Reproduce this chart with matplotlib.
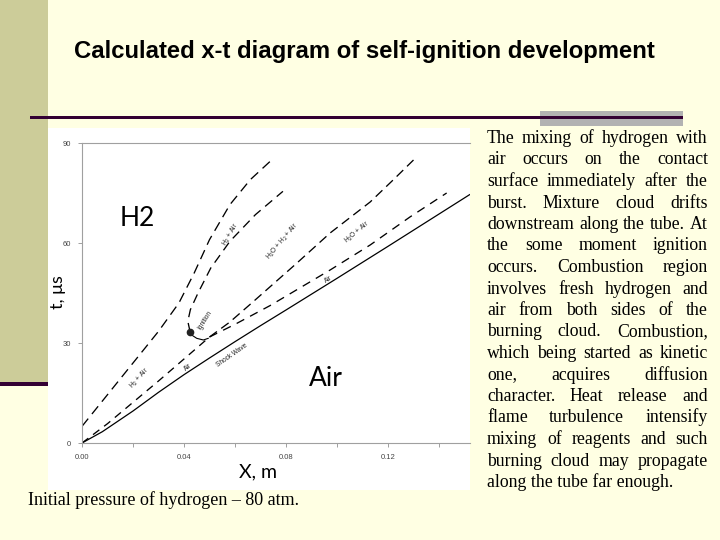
import numpy as np
import matplotlib.pyplot as plt
from matplotlib.patches import Rectangle

# curves: x in m, t in microseconds
shock_x = [0, 0.008, 0.02, 0.03, 0.04, 0.05, 0.06, 0.07, 0.08, 0.10, 0.12, 0.152]
shock_t = [0, 3.4, 9.6, 15.2, 20.5, 25.5, 30.4, 35.2, 39.9, 49.4, 59.0, 74.5]

contact_x = [0, 0.01, 0.02, 0.03, 0.04, 0.05]
contact_t = [0, 5.8, 12.2, 18.6, 25.2, 31.8]

h2air_out_x = [0, 0.01, 0.02, 0.03, 0.038, 0.044, 0.050, 0.058, 0.066, 0.0745]
h2air_out_t = [5.0, 14.5, 24.0, 33.5, 42.0, 51.0, 61.0, 71.5, 79.0, 85.0]

h2air_in_x = [0.0424, 0.0415, 0.0425, 0.0455, 0.0505, 0.058, 0.068, 0.0788]
h2air_in_t = [33.3, 36.5, 40.0, 45.0, 52.5, 60.5, 68.5, 75.5]

mix_x = [0.050, 0.058, 0.067, 0.0843, 0.0973, 0.113, 0.122, 0.130]
mix_t = [31.8, 36.3, 42.3, 54.0, 63.0, 72.3, 78.9, 84.9]

h2oair_x = [0.050, 0.060, 0.0737, 0.0973, 0.113, 0.1286, 0.143]
h2oair_t = [31.8, 35.6, 41.2, 51.9, 59.4, 67.8, 75.0]

hook_x = [0.0424, 0.043, 0.045, 0.0476, 0.0495]
hook_t = [33.3, 32.4, 31.4, 30.9, 31.4]

ign_x, ign_t = 0.0424, 33.3

xticks = [0, 0.02, 0.04, 0.06, 0.08, 0.10, 0.12, 0.14]
xlabels = ['0.00', '', '0.04', '', '0.08', '', '0.12', '']
yticks = [0, 30, 60, 90]

# curve labels: text, x, t, angle
curve_labels = [
    ('H$_2$ + Air', 0.0584, 62.4, 60),
    ('H$_2$O + H$_2$ + Air', 0.0788, 60.6, 50),
    ('H$_2$O + Air', 0.1078, 63.3, 40),
    ('Air', 0.0965, 48.9, 33),
    ('Ignition', 0.0482, 36.9, 58),
    ('H$_2$ + Air', 0.0227, 19.5, 48),
    ('Air', 0.0416, 22.8, 40),
    ('Shock Wave', 0.0588, 26.4, 35),
]

body = [
    "The mixing of hydrogen with",
    "air occurs on the contact",
    "surface immediately after the",
    "burst. Mixture cloud drifts",
    "downstream along the tube. At",
    "the some moment ignition",
    "occurs. Combustion region",
    "involves fresh hydrogen and",
    "air from both sides of the",
    "burning cloud. Combustion,",
    "which being started as kinetic",
    "one, acquires diffusion",
    "character. Heat release and",
    "flame turbulence intensify",
    "mixing of reagents and such",
    "burning cloud may propagate",
    "along the tube far enough.",
]

W, H = 720, 540
BG = '#FFFFE3'
fig = plt.figure(figsize=(7.2, 5.4), dpi=100, facecolor=BG)


def box(x, y, w, h):
    # pixel box (top-left origin) -> figure fraction
    return [x / W, 1 - (y + h) / H, w / W, h / H]


def rect(x, y, w, h, color, z=0):
    fig.add_artist(Rectangle((x / W, 1 - (y + h) / H), w / W, h / H,
                             transform=fig.transFigure, color=color, lw=0, zorder=z))


def ftext(x, y, s, **kw):
    return fig.text(x / W, 1 - y / H, s, **kw)


# slide decoration
rect(0, 0, 48, 383, '#CCCC99')
rect(0, 382, 48, 4, '#330033')
rect(540, 111, 143, 15, '#B2B2B2')
rect(30, 115.5, 653, 3, '#330033', z=1)
rect(48, 128, 422, 362, 'white')

# chart
ax = fig.add_axes(box(82, 143, 388, 300))
ax.set_facecolor('none')
dash = dict(color='black', lw=0.95)
ax.plot(shock_x, shock_t, color='black', lw=0.9)
ax.plot(contact_x, contact_t, ls=(0, (6, 4.5)), **dash)
ax.plot(h2air_out_x, h2air_out_t, ls=(0, (7.5, 4.5)), **dash)
ax.plot(h2air_in_x, h2air_in_t, ls=(0, (7, 4.5)), **dash)
ax.plot(mix_x, mix_t, ls=(0, (7, 4)), **dash)
ax.plot(h2oair_x, h2oair_t, ls=(0, (6.5, 5)), **dash)
ax.plot(hook_x, hook_t, color='black', lw=0.8)
ax.plot([ign_x], [ign_t], 'o', color='#222222', ms=4.5)
for s, x, t, a in curve_labels:
    ax.text(x, t, s, rotation=a, rotation_mode='anchor', ha='center', va='center',
            fontsize=4.7, family='Liberation Sans', color='#222222')

ax.set_xlim(0, 388 * 0.04 / 102)
ax.set_ylim(0, 90)
ax.set_xticks(xticks)
ax.set_xticklabels(xlabels)
ax.set_yticks(yticks)
for side in ['left', 'bottom', 'top']:
    ax.spines[side].set_color('#A0A0A0')
    ax.spines[side].set_linewidth(0.8)
ax.spines['right'].set_visible(False)
ax.tick_params(length=3, width=0.7, color='#A0A0A0', labelsize=5.5,
               labelcolor='#444444', pad=5)
for lab in ax.get_xticklabels() + ax.get_yticklabels():
    lab.set_family('Liberation Sans')

ftext(258, 472, 'X, m', fontsize=14, family='Lato', ha='center', va='center')
ftext(58, 292, 't, \u03bcs', fontsize=13, family='Lato', ha='center', va='center', rotation=90)
ftext(137, 218, 'H2', fontsize=19, family='Lato', ha='center', va='center')
ftext(326, 378, 'Air', fontsize=19, family='Lato', ha='center', va='center')

# text: sizes fitted to widths measured on the picture
fig.canvas.draw()
r = fig.canvas.get_renderer()


def width(s, size, **kw):
    t = fig.text(0, 0, s, fontsize=size, **kw)
    w = t.get_window_extent(r).width
    t.remove()
    return w


serif = dict(family='Liberation Serif', color='black')
title_kw = dict(family='Liberation Sans', weight='bold', color='black')
title = 'Calculated x-t diagram of self-ignition development'
ts = 10 * 582 / width(title, 10, **title_kw)
ftext(364, 58, title, fontsize=ts, ha='center', va='baseline', **title_kw)

cap = 'Initial pressure of hydrogen \u2013 80 atm.'
cs = 10 * 272 / width(cap, 10, **serif)
ftext(28, 505, cap, fontsize=cs, va='baseline', **serif)

fs = 10 * 186 / width(body[-1], 10, **serif)
left, right = 487, 708
for i, line in enumerate(body):
    y = 143 + 21.5 * i
    words = line.split()
    if i == len(body) - 1:
        ftext(left, y, line, fontsize=fs, va='baseline', **serif)
        continue
    ws = [width(w, fs, **serif) for w in words]
    gap = (right - left - sum(ws)) / (len(words) - 1)
    x = left
    for w, wd in zip(words, ws):
        ftext(x, y, w, fontsize=fs, va='baseline', **serif)
        x += wd + gap

fig.savefig('out.png', dpi=100, facecolor=BG)
